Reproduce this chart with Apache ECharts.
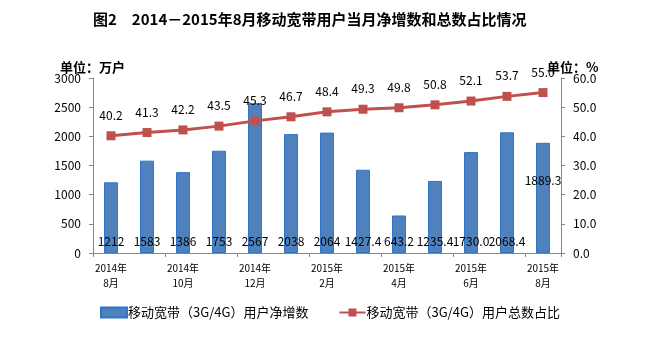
<!DOCTYPE html>
<html>
<head>
<meta charset="utf-8">
<script src="https://cdn.jsdelivr.net/npm/echarts@6/dist/echarts.min.js"></script>
<style>
  html, body { margin: 0; padding: 0; background: #fff; }
  #chart { width: 646px; height: 354px; }
</style>
</head>
<body>
<div id="chart"></div>
<script>
const months = ['2014年\n8月', '2014年\n9月', '2014年\n10月', '2014年\n11月', '2014年\n12月',
  '2015年\n1月', '2015年\n2月', '2015年\n3月', '2015年\n4月', '2015年\n5月',
  '2015年\n6月', '2015年\n7月', '2015年\n8月']
const netAdds = [1212, 1583, 1386, 1753, 2567, 2038, 2064, 1427.4, 643.2, 1235.4, 1730.0, 2068.4, 1889.3]
const netAddLabels = ['1212', '1583', '1386', '1753', '2567', '2038', '2064', '1427.4', '643.2', '1235.4', '1730.0', '2068.4', '1889.3']
const shares = [40.2, 41.3, 42.2, 43.5, 45.3, 46.7, 48.4, 49.3, 49.8, 50.8, 52.1, 53.7, 55.0]

const barName = '移动宽带（3G/4G）用户净增数'
const lineName = '移动宽带（3G/4G）用户总数占比'
const font = '"Noto Sans CJK SC", sans-serif'

const barData = netAdds.map((v, i) => {
  const item = { value: v }
  if (i === netAdds.length - 1) {
    item.label = { position: 'insideTop', distance: 32 }
  }
  return item
})

const chart = echarts.init(document.getElementById('chart'))
chart.setOption({
  animation: false,
  textStyle: { fontFamily: font },
  title: [
    {
      text: '图2　2014－2015年8月移动宽带用户当月净增数和总数占比情况',
      left: 88, top: 7,
      textStyle: { fontSize: 15, fontWeight: 'bold', color: '#000', fontFamily: font },
    },
    {
      text: '单位：万户',
      left: 55, top: 56,
      textStyle: { fontSize: 13, fontWeight: 'bold', color: '#000', fontFamily: font },
    },
    {
      text: '单位：%',
      left: 542, top: 56,
      textStyle: { fontSize: 13, fontWeight: 'bold', color: '#000', fontFamily: font },
    },
  ],
  legend: {
    top: 306,
    left: 100,
    padding: 0,
    itemGap: 30,
    itemWidth: 26,
    itemHeight: 10,
    textStyle: { fontSize: 13, color: '#000', fontFamily: font, padding: [0, 0, 0, -4] },
    data: [
      { name: barName, icon: 'rect' },
      { name: lineName },
    ],
  },
  grid: { left: 93, right: 85, top: 78, bottom: 101 },
  xAxis: {
    type: 'category',
    data: months,
    axisLine: { lineStyle: { color: '#868686' } },
    axisTick: { show: true, alignWithLabel: false, length: 4, lineStyle: { color: '#868686' } },
    axisLabel: {
      interval: 1,
      fontSize: 10,
      lineHeight: 15,
      color: '#000',
      margin: 8,
    },
  },
  yAxis: [
    {
      type: 'value',
      min: 0, max: 3000, interval: 500,
      splitLine: { show: false },
      axisLine: { show: true, lineStyle: { color: '#868686' } },
      axisTick: { show: true, length: 4, lineStyle: { color: '#868686' } },
      axisLabel: { fontSize: 12, color: '#000', margin: 12, formatter: (v) => String(v) },
    },
    {
      type: 'value',
      min: 0, max: 60, interval: 10,
      splitLine: { show: false },
      axisLine: { show: true, lineStyle: { color: '#868686' } },
      axisTick: { show: true, length: 4, lineStyle: { color: '#868686' } },
      axisLabel: { fontSize: 12, color: '#000', margin: 12, formatter: (v) => v.toFixed(1) },
    },
  ],
  series: [
    {
      name: barName,
      type: 'bar',
      data: barData,
      barWidth: 14,
      itemStyle: { color: '#4F81BD', borderColor: '#2E75C8', borderWidth: 1 },
      label: {
        show: true,
        position: 'insideBottom',
        distance: 6,
        fontSize: 12,
        color: '#000',
        formatter: (p) => netAddLabels[p.dataIndex],
      },
      z: 2,
    },
    {
      name: lineName,
      type: 'line',
      yAxisIndex: 1,
      data: shares,
      symbol: 'rect',
      symbolSize: 9,
      lineStyle: { color: '#C0504D', width: 3 },
      itemStyle: { color: '#C0504D' },
      label: {
        show: true,
        position: 'top',
        distance: 10,
        fontSize: 12,
        color: '#000',
        formatter: (p) => p.value.toFixed(1),
      },
      z: 3,
    },
  ],
})
</script>
</body>
</html>
